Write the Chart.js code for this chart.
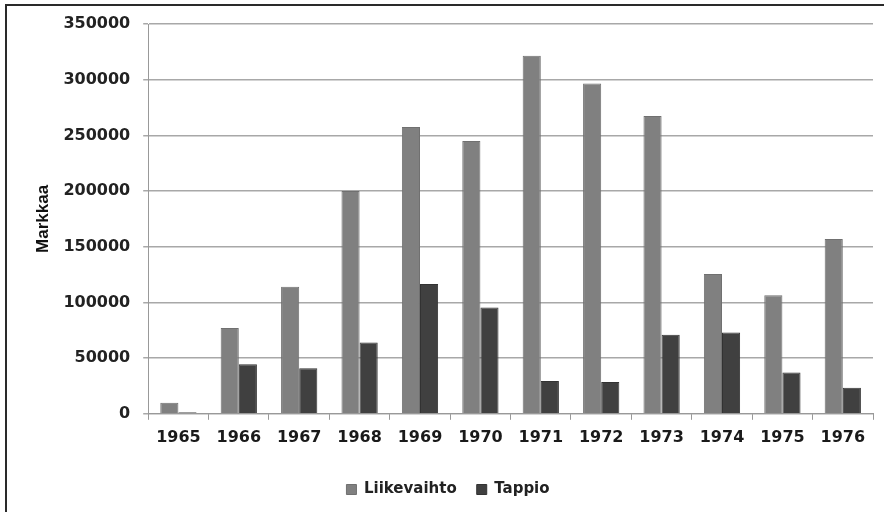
<!DOCTYPE html>
<html>
<head>
<meta charset="utf-8">
<script src="https://cdn.jsdelivr.net/npm/chart.js@4"></script>
<style>
    body { margin: 0; background: #fff; overflow: hidden; }
    #wrap { position: relative; width: 884px; height: 512px; overflow: hidden; }
    #frame { position: absolute; left: 5px; top: 4px; width: 900px; height: 530px; border: 2px solid #2a2a2a; box-sizing: border-box; pointer-events: none; }
    canvas { position: absolute; left: 0; top: 0; }
</style>
</head>
<body>
<div id="wrap">
    <canvas id="chart" width="884" height="512"></canvas>
    <div id="frame"></div>
</div>
<script>
// Data
const years = ['1965', '1966', '1967', '1968', '1969', '1970', '1971', '1972', '1973', '1974', '1975', '1976'];
const liikevaihto = [10000, 77000, 114000, 200000, 257500, 245000, 321500, 296500, 267500, 125500, 106500, 157000];
const tappio = [1500, 44500, 41000, 64000, 116500, 95500, 29500, 28500, 71000, 73000, 37000, 23500];
const yTicks = [0, 50000, 100000, 150000, 200000, 250000, 300000, 350000];

const ctx = document.getElementById('chart').getContext('2d');
new Chart(ctx, {
    type: 'bar',
    data: {
        labels: years,
        datasets: [
            {
                label: 'Liikevaihto',
                data: liikevaihto,
                backgroundColor: '#808080',
                borderColor: '#707070',
                borderWidth: 1
            },
            {
                label: 'Tappio',
                data: tappio,
                backgroundColor: '#404040',
                borderColor: '#333333',
                borderWidth: 1
            }
        ]
    },
    options: {
        responsive: false,
        animation: false,
        layout: { padding: { left: 23, right: 11, top: 24, bottom: 5 } },
        datasets: { bar: { categoryPercentage: 0.6, barPercentage: 1.0 } },
        plugins: {
            legend: {
                position: 'bottom',
                labels: {
                    boxWidth: 10,
                    boxHeight: 10,
                    padding: 20,
                    color: '#222',
                    font: { family: 'DejaVu Sans', size: 15, weight: 'bold' }
                }
            },
            tooltip: { enabled: false }
        },
        scales: {
            x: {
                grid: { display: true, drawOnChartArea: false, color: '#999', tickLength: 6 },
                border: { color: '#999' },
                ticks: {
                    color: '#1a1a1a',
                    padding: 8,
                    font: { family: 'DejaVu Sans', size: 16, weight: 'bold' }
                },
                afterFit: function (scale) { scale.height += 7; }
            },
            y: {
                min: 0,
                max: 350000,
                afterBuildTicks: function (scale) {
                    scale.ticks = yTicks.map(v => ({ value: v }));
                },
                afterFit: function (scale) { scale.width -= 13; },
                ticks: {
                    color: '#222',
                    padding: 13,
                    callback: v => String(v),
                    font: { family: 'DejaVu Sans', size: 16, weight: 'bold' }
                },
                grid: { color: '#a8a8a8', lineWidth: 1.5, tickLength: 5 },
                border: { color: '#999' },
                title: {
                    display: true,
                    text: 'Markkaa',
                    color: '#111',
                    padding: 10,
                    font: { family: 'Liberation Sans', size: 17, weight: 'bold' }
                }
            }
        }
    }
});
</script>
</body>
</html>
